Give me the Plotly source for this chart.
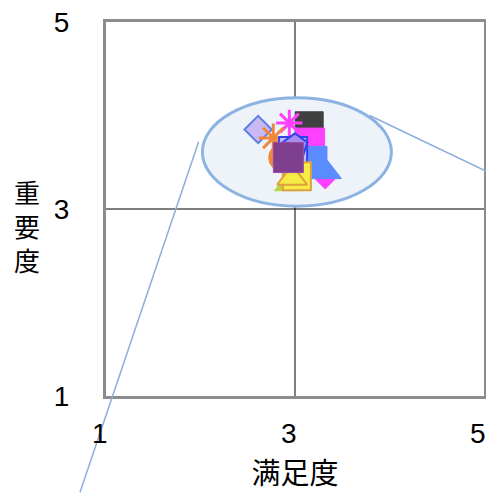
import plotly.graph_objects as go

# satisfaction (x) and importance (y) for each item
satisfaction = [2.61, 3.15, 3.16, 3.32, 3.19, 3.32, 2.94, 2.77, 2.87, 2.98, 3.00, 2.93, 3.02, 2.97, 2.93]
importance = [3.85, 3.89, 3.71, 3.36, 3.52, 3.40, 3.92, 3.76, 3.55, 3.62, 3.67, 3.26, 3.35, 3.33, 3.55]

axis_ticks = [1, 3, 5]
axis_range = [1, 5]
mid_value = 3

# highlighted cluster (center and half widths) and its call-out lines
cluster_center = (3.02, 3.61)
cluster_radius = (1.0, 0.58)
callout_lines = [
    ((1.98, 3.72), (0.725, -0.03)),
    ((3.79, 4.00), (5.03, 3.40)),
]

styles = [
    dict(symbol="diamond", size=21, color="#CBB9F6", line=dict(color="#5B7FE6", width=2)),
    dict(symbol="square", size=28, color="#404040", line=dict(color="#404040", width=1)),
    dict(symbol="square", size=29, color="#FF40FF", line=dict(color="#FF40FF", width=1)),
    dict(symbol="diamond", size=21, color="#FF40FF", line=dict(color="#FF40FF", width=1)),
    dict(symbol="square", size=28, color="#5B8CFF", line=dict(color="#5B8CFF", width=1)),
    dict(symbol="triangle-up", size=28, color="#5B8CFF", line=dict(color="#5B8CFF", width=1)),
    dict(symbol="asterisk", size=22, color="#FF3FFF", line=dict(color="#FF3FFF", width=3)),
    dict(symbol="asterisk", size=24, color="#F0873A", line=dict(color="#F0873A", width=3)),
    dict(symbol="circle", size=28, color="#F0873A", line=dict(color="#F0873A", width=1)),
    dict(symbol="square", size=28, color="#C9B8F5", line=dict(color="#3344EE", width=2)),
    dict(symbol="pentagon", size=26, color="#A88CF0", line=dict(color="#3344EE", width=2)),
    dict(symbol="triangle-up", size=24, color="#B7D63A", line=dict(color="#B7D63A", width=1)),
    dict(symbol="square", size=28, color="#F6EC45", line=dict(color="#E0A040", width=2)),
    dict(symbol="triangle-up", size=26, color="#F6EC45", line=dict(color="#E0A040", width=2)),
    dict(symbol="square", size=30, color="#7E3F8F", line=dict(color="#9A4AA8", width=1)),
]

fig = go.Figure()

for x, y, st in zip(satisfaction, importance, styles):
    fig.add_trace(
        go.Scatter(
            x=[x],
            y=[y],
            mode="markers",
            marker=dict(
                symbol=st["symbol"],
                size=st["size"],
                color=st["color"],
                line=st["line"],
            ),
            cliponaxis=False,
        )
    )

cx, cy = cluster_center
rx, ry = cluster_radius
fig.add_shape(
    type="circle",
    xref="x",
    yref="y",
    x0=cx - rx,
    x1=cx + rx,
    y0=cy - ry,
    y1=cy + ry,
    fillcolor="#EEF3F9",
    line=dict(color="#8DB3E2", width=3),
    layer="below",
)

# quadrant lines
fig.add_shape(type="line", xref="x", yref="paper", x0=mid_value, x1=mid_value, y0=0, y1=1,
              line=dict(color="black", width=1), layer="below")
fig.add_shape(type="line", xref="paper", yref="y", x0=0, x1=1, y0=mid_value, y1=mid_value,
              line=dict(color="black", width=1), layer="below")


def to_paper(v):
    return (v - axis_range[0]) / (axis_range[1] - axis_range[0])


for (xa, ya), (xb, yb) in callout_lines:
    fig.add_shape(
        type="line",
        xref="paper",
        yref="paper",
        x0=to_paper(xa),
        y0=to_paper(ya),
        x1=to_paper(xb),
        y1=to_paper(yb),
        line=dict(color="#8DAEDC", width=1.5),
        layer="above",
    )

num_font = dict(size=28, color="black", family="Liberation Sans")
cjk_font = dict(size=29, color="black", family="Noto Sans CJK JP")

# x tick labels sit a little left of their ticks, as in the original
for v in axis_ticks:
    fig.add_annotation(
        text=str(v),
        xref="x",
        yref="paper",
        x=v,
        y=0,
        xanchor="center",
        yanchor="top",
        xshift=-6,
        yshift=-20,
        showarrow=False,
        font=num_font,
    )

fig.add_annotation(
    text="重<br>要<br>度",
    xref="paper",
    yref="paper",
    x=-0.209,
    xanchor="center",
    y=0.455,
    showarrow=False,
    font=dict(size=26, color="black", family="Noto Sans CJK JP"),
    align="center",
)

fig.update_layout(
    width=486,
    height=493,
    margin=dict(l=106, r=2, t=22, b=97),
    paper_bgcolor="white",
    plot_bgcolor="white",
    showlegend=False,
    xaxis=dict(
        range=axis_range,
        tickvals=axis_ticks,
        showticklabels=False,
        showgrid=False,
        zeroline=False,
        showline=True,
        mirror=True,
        linecolor="#8C8C8C",
        linewidth=3,
        ticks="",
        automargin=False,
        title=dict(text="满足度", font=cjk_font, standoff=66),
    ),
    yaxis=dict(
        range=axis_range,
        tickvals=axis_ticks,
        showgrid=False,
        zeroline=False,
        showline=True,
        mirror=True,
        linecolor="#8C8C8C",
        linewidth=3,
        ticks="",
        ticklabelstandoff=28,
        ticklabeloverflow="allow",
        automargin=False,
        tickfont=num_font,
    ),
)

fig.write_html(
    "out.html",
    config={"displayModeBar": False},
    post_script="document.body.style.margin='0';document.body.style.overflow='hidden';",
)
